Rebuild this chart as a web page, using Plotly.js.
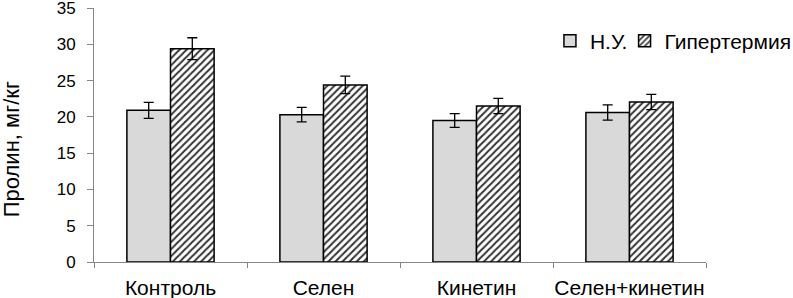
<!DOCTYPE html>
<html>
<head>
<meta charset="utf-8">
<script src="https://cdn.plot.ly/plotly-3.0.1.min.js"></script>
<style>html,body{margin:0;padding:0;background:#fff;}#chart{width:793px;height:298px;}</style>
</head>
<body>
<div id="chart"></div>
<script>
const categories = ["Контроль", "Селен", "Кинетин", "Селен+кинетин"];
const seriesNames = ["Н.У.", "Гипертермия"];
const normal = [20.9, 20.3, 19.5, 20.6];
const normalErr = [1.1, 1.0, 0.95, 1.05];
const hyper = [29.4, 24.4, 21.5, 22.05];
const hyperErr = [1.5, 1.2, 1.05, 1.05];
const yTicks = [0, 5, 10, 15, 20, 25, 30, 35];

const FONT = "Liberation Sans, Arial, sans-serif";

const traces = [
  {
    type: "bar", name: seriesNames[0], x: categories, y: normal, legend: "legend",
    marker: {color: "#d9d9d9", line: {color: "#000", width: 1.5}},
    error_y: {type: "data", array: normalErr, visible: true, color: "#000", thickness: 1.3, width: 5}
  },
  {
    type: "bar", name: seriesNames[1], x: categories, y: hyper, legend: "legend2",
    marker: {color: "#ffffff", line: {color: "#000", width: 1.5},
      pattern: {shape: "/", size: 5, solidity: 0.4, fgcolor: "#333", bgcolor: "#ffffff"}},
    error_y: {type: "data", array: hyperErr, visible: true, color: "#000", thickness: 1.3, width: 5}
  }
];

const legendCommon = {orientation: "h", y: 0.87, yanchor: "middle",
  font: {family: FONT, size: 21, color: "#000"}, itemwidth: 30,
  bgcolor: "rgba(0,0,0,0)"};

const layout = {
  width: 793, height: 298,
  margin: {l: 94, r: 87, t: 8, b: 36, autoexpand: false},
  paper_bgcolor: "#fff", plot_bgcolor: "#fff",
  barmode: "group", bargap: 0.43, bargroupgap: 0,
  font: {family: FONT, color: "#000"},
  showlegend: true,
  legend: Object.assign({}, legendCommon, {x: 0.745, xanchor: "left"}),
  legend2: Object.assign({}, legendCommon, {x: 1.148, xanchor: "right"}),
  xaxis: {
    type: "category", showline: true, linecolor: "#868686", linewidth: 1,
    ticks: "outside", tickson: "boundaries", ticklen: 5, tickcolor: "#868686",
    tickangle: 0, automargin: false, ticklabelstandoff: 7,
    tickfont: {family: FONT, size: 21, color: "#000"}, showgrid: false, zeroline: false
  },
  yaxis: {
    range: [0, 35], tickvals: yTicks, showline: true, linecolor: "#868686", linewidth: 1,
    ticks: "outside", ticklen: 6, tickcolor: "#868686", showgrid: false, zeroline: false,
    automargin: false, ticklabeloverflow: "allow",
    tickfont: {family: FONT, size: 17, color: "#000"}, ticklabelstandoff: 8
  },
  annotations: [{
    text: "Пролин, мг/кг", textangle: -90, xref: "paper", yref: "paper",
    x: -0.1335, y: 0.445, xanchor: "center", yanchor: "middle", showarrow: false,
    font: {family: FONT, size: 22, color: "#000"}
  }]
};

Plotly.newPlot("chart", traces, layout, {staticPlot: true, displayModeBar: false});
</script>
</body>
</html>
